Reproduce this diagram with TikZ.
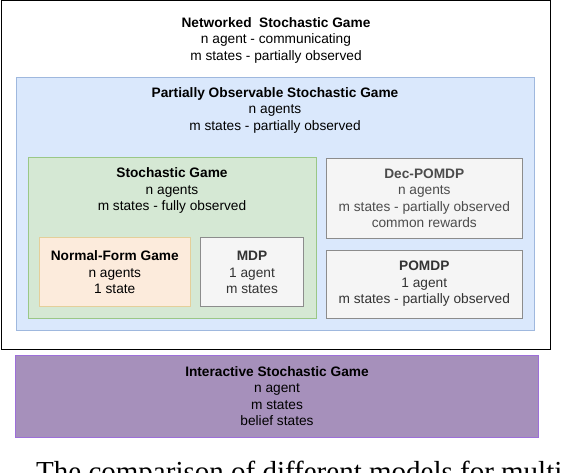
\documentclass[tikz,border=0pt]{standalone}
\usepackage{fontspec}
\setmainfont{Liberation Sans}
\newfontfamily\captionserif{Liberation Serif}
\usepackage{xcolor}
\definecolor{posgfill}{HTML}{DAE8FC}
\definecolor{posgline}{HTML}{9FB8DE}
\definecolor{sgfill}{HTML}{D5E8D4}
\definecolor{sgline}{HTML}{9AC787}
\definecolor{nfgfill}{HTML}{FCEBDC}
\definecolor{nfgline}{HTML}{E4CF9A}
\definecolor{greyfill}{HTML}{F5F5F5}
\definecolor{greyline}{HTML}{8C8C8C}
\definecolor{isgfill}{HTML}{A690BB}
\definecolor{isgline}{HTML}{9D6FD9}
\tikzset{
	boxtext/.style={align=center, inner sep=0pt, font=\fontsize{13.7}{16.5}\selectfont},
	greytext/.style={boxtext, text=black!80}
}

\begin{document}
\begin{tikzpicture}[x=1pt,y=-1pt]
        \clip (0,0) rectangle (564,472);
        \fill[white] (0,0) rectangle (564,472);
        \coordinate (nsg_a) at (1.5, 0.5);
        \coordinate (nsg_b) at (550.5, 349.5);
        \coordinate (posg_a) at (16, 77.5);
        \coordinate (posg_b) at (534, 330.5);
        \coordinate (sg_a) at (28.5, 157.5);
        \coordinate (sg_b) at (316, 318.5);
        \coordinate (nfg_a) at (39.5, 237.5);
        \coordinate (nfg_b) at (190, 306.5);
        \coordinate (mdp_a) at (200.5, 237.5);
        \coordinate (mdp_b) at (303.5, 306.5);
        \coordinate (dec_a) at (326.5, 158);
        \coordinate (dec_b) at (522, 238.5);
        \coordinate (pomdp_a) at (326.5, 250);
        \coordinate (pomdp_b) at (522, 318.5);
        \coordinate (isg_a) at (15.5, 355);
        \coordinate (isg_b) at (538.5, 437);
        \filldraw[draw=black, fill=white, line width=1.3pt] (nsg_a) rectangle (nsg_b);
        \filldraw[draw=posgline, fill=posgfill, line width=1pt] (posg_a) rectangle (posg_b);
        \filldraw[draw=sgline, fill=sgfill, line width=1pt] (sg_a) rectangle (sg_b);
        \filldraw[draw=nfgline, fill=nfgfill, line width=1pt] (nfg_a) rectangle (nfg_b);
        \filldraw[draw=greyline, fill=greyfill, line width=1pt] (mdp_a) rectangle (mdp_b);
        \filldraw[draw=greyline, fill=greyfill, line width=1pt] (dec_a) rectangle (dec_b);
        \filldraw[draw=greyline, fill=greyfill, line width=1pt] (pomdp_a) rectangle (pomdp_b);
        \filldraw[draw=isgline, fill=isgfill, line width=1pt] (isg_a) rectangle (isg_b);
        \node[boxtext] (nsg) at (276, 40) {\textbf{Networked\ \ Stochastic Game}\\n agent - communicating\\m states - partially observed};
        \node[boxtext] (posg) at (275, 110.3) {\textbf{Partially Observable Stochastic Game}\\n agents\\m states - partially observed};
        \node[boxtext] (sg) at (172, 190.5) {\textbf{Stochastic Game}\\n agents\\m states - fully observed};
        \node[boxtext] (nfg) at (114.8, 272.5) {\textbf{Normal-Form Game}\\n agents\\1 state};
        \node[greytext] (mdp) at (252, 272.5) {\textbf{MDP}\\1 agent\\m states};
        \node[greytext, text=black!70] (dec) at (424.3, 198.5) {\textbf{Dec-POMDP}\\n agents\\m states - partially observed\\common rewards};
        \node[greytext] (pomdp) at (424.3, 284) {\textbf{POMDP}\\1 agent\\m states - partially observed};
        \node[boxtext] (isg) at (277, 396) {\textbf{Interactive Stochastic Game}\\n agent\\m states\\belief states};
        \node[anchor=base west, inner sep=0pt, font=\captionserif\fontsize{29}{34}\selectfont] (caption) at (36, 481.7) {The comparison of different models for multi-agent};
    \end{tikzpicture}
\end{document}
